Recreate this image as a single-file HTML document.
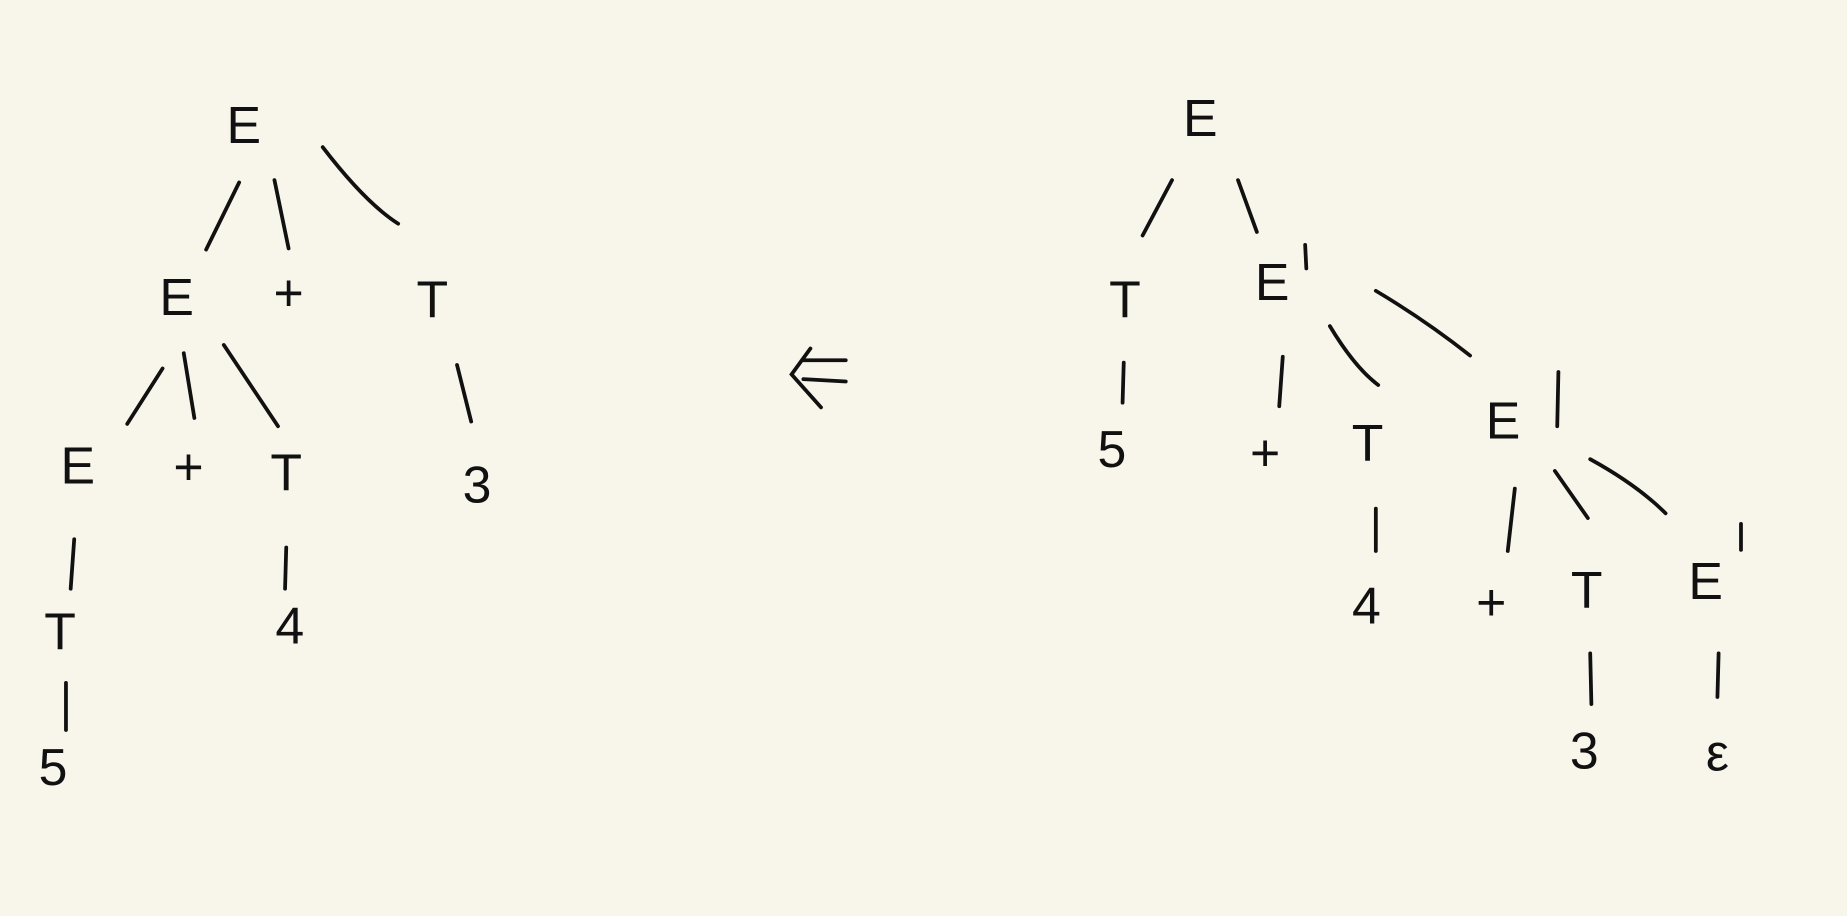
<!DOCTYPE html>
<html><head><meta charset="utf-8"><style>
html,body{margin:0;padding:0;background:#f8f6eb;}
svg{display:block}
text{font-family:"Liberation Sans",sans-serif;fill:#111;text-anchor:middle;dominant-baseline:middle;font-size:44px;}
path,line{stroke:#111;stroke-width:3.2;stroke-linecap:round;fill:none}
</style></head><body>
<svg width="1847" height="916" viewBox="0 0 1568 778" preserveAspectRatio="none">
<rect width="1568" height="778" fill="#f8f6eb"/>
<g>
<text x="207" y="110">E</text>
<line x1="203" y1="155" x2="175" y2="212"/><line x1="233" y1="153" x2="245" y2="211"/><path d="M274 125 Q310 172 338 190"/>
<text x="150" y="256">E</text><text x="245" y="252">+</text><text x="367" y="258">T</text>
<line x1="138" y1="313" x2="108" y2="360"/><line x1="156" y1="300" x2="165" y2="355"/><line x1="190" y1="293" x2="236" y2="362"/><line x1="388" y1="310" x2="400" y2="358"/>
<text x="66" y="399">E</text><text x="160" y="400">+</text><text x="243" y="405">T</text><text x="405" y="415">3</text>
<line x1="63" y1="458" x2="60" y2="500"/><line x1="243" y1="465" x2="242" y2="500"/>
<text x="51" y="540">T</text><text x="246" y="535">4</text>
<line x1="56" y1="580" x2="56" y2="620"/>
<text x="45" y="655">5</text>
</g>
<g>
<path d="M688 296 L672 318 L697 346"/><line x1="682" y1="306" x2="718" y2="306"/><line x1="682" y1="322" x2="718" y2="324"/>
</g>
<g>
<text x="1019" y="104">E</text>
<line x1="995" y1="153" x2="970" y2="200"/><line x1="1051" y1="153" x2="1067" y2="197"/>
<text x="955" y="258">T</text><text x="1080" y="243">E</text><line x1="1108" y1="208" x2="1109" y2="228"/>
<path d="M1168 247 Q1210 272 1248 302"/><path d="M1129 277 Q1150 312 1170 327"/><line x1="1089" y1="303" x2="1086" y2="345"/><line x1="954" y1="308" x2="953" y2="342"/>
<text x="944" y="385">5</text><text x="1074" y="388">+</text><text x="1161" y="380">T</text><text x="1276" y="361">E</text><line x1="1323" y1="316" x2="1322" y2="362"/>
<line x1="1168" y1="432" x2="1168" y2="468"/><line x1="1286" y1="415" x2="1280" y2="468"/><line x1="1320" y1="400" x2="1348" y2="440"/><path d="M1350 390 Q1390 412 1414 436"/>
<text x="1160" y="518">4</text><text x="1266" y="515">+</text><text x="1347" y="505">T</text><text x="1448" y="497">E</text><line x1="1478" y1="445" x2="1478" y2="467"/>
<line x1="1350" y1="555" x2="1351" y2="598"/><line x1="1459" y1="555" x2="1458" y2="592"/>
<text x="1345" y="641">3</text><text x="1458" y="643">ε</text>
</g>
</svg>
</body></html>
